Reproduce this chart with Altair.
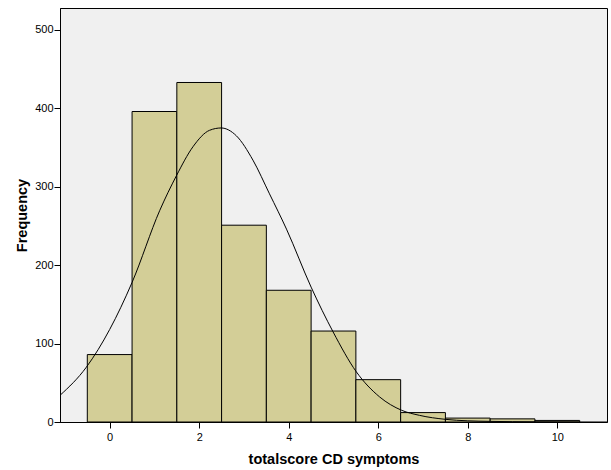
import altair as alt
import pandas as pd

# Histogram bins (centre of each unit-wide bin) and frequencies
scores = [0, 1, 2, 3, 4, 5, 6, 7, 8, 9, 10]
counts = [86, 396, 433, 251, 168, 116, 54, 12, 5, 4, 2]

# Normal curve points
curve_x = [-1.11, -0.52, 0.0, 0.5, 1.12, 1.49, 1.86, 2.23, 2.49, 2.83, 3.2, 3.57,
           3.95, 4.5, 4.99, 5.51, 6.03, 6.52, 6.92, 7.5, 8.0, 8.5, 9.5, 10.5, 11.11]
curve_y = [34, 70, 118, 178, 270, 314, 351, 372, 375, 365, 334, 291,
           246, 172, 115, 64, 32, 15, 8.5, 3.4, 1.5, 0.8, 0.2, 0.05, 0.0]

y_ticks = [0, 100, 200, 300, 400, 500]
x_ticks = [0, 2, 4, 6, 8, 10]

bars = pd.DataFrame({"score": scores, "count": counts})
curve = pd.DataFrame({"x": curve_x, "y": curve_y})

xscale = alt.Scale(domain=[-1.11, 11.11], nice=False, zero=False)
yscale = alt.Scale(domain=[0, 528], nice=False)

font = "Liberation Sans"

bar_layer = alt.Chart(bars).transform_calculate(
    lo="datum.score - 0.5", hi="datum.score + 0.5"
).mark_rect(fill="#D3CE97", stroke="#000000", strokeWidth=1).encode(
    x=alt.X("lo:Q", scale=xscale,
            axis=alt.Axis(values=x_ticks, title="totalscore CD symptoms", grid=False,
                          domainColor="#000000", tickColor="#000000", tickSize=6,
                          labelFont=font, labelFontSize=11, labelColor="#000000",
                          labelPadding=3, titleFont=font, titleFontSize=14.5,
                          titleFontWeight="bold", titleColor="#000000", titlePadding=10)),
    x2="hi:Q",
    y=alt.Y("count:Q", scale=yscale,
            axis=alt.Axis(values=y_ticks, title="Frequency", grid=False,
                          domainColor="#000000", tickColor="#000000", tickSize=6,
                          labelFont=font, labelFontSize=11, labelColor="#000000",
                          labelPadding=1, titleFont=font, titleFontSize=14.5,
                          titleFontWeight="bold", titleColor="#000000", titlePadding=5)),
    y2=alt.datum(0),
)

line_layer = alt.Chart(curve).mark_line(color="#000000", strokeWidth=1,
                                         interpolate="monotone", clip=True).encode(
    x=alt.X("x:Q", scale=xscale),
    y=alt.Y("y:Q", scale=yscale),
)

chart = alt.layer(bar_layer, line_layer).properties(
    width=547, height=414,
    autosize=alt.AutoSizeParams(type="none"),
    padding={"left": 60, "top": 8, "right": 4, "bottom": 48},
    background="#FFFFFF",
).configure_view(
    fill="#F0F0F0", stroke="#000000", strokeWidth=1
)

chart.save("out.html", embed_options={"renderer": "svg", "actions": False})
